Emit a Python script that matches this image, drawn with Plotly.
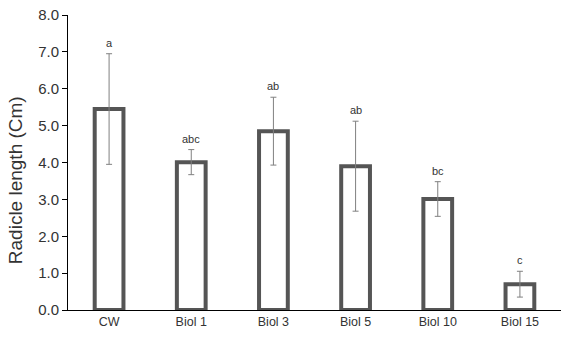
import plotly.graph_objects as go

categories = ["CW", "Biol 1", "Biol 3", "Biol 5", "Biol 10", "Biol 15"]
means = [5.45, 4.01, 4.85, 3.90, 3.01, 0.70]
errors = [1.50, 0.34, 0.92, 1.22, 0.47, 0.35]
letters = ["a", "abc", "ab", "ab", "bc", "c"]
y_ticks = [0, 1, 2, 3, 4, 5, 6, 7, 8]

fig = go.Figure()
fig.add_trace(go.Bar(
    x=categories, y=means, width=0.35,
    marker=dict(color="white", line=dict(color="#555555", width=4)),
    error_y=dict(type="data", array=errors, visible=True, color="#808080",
                 thickness=1, width=3),
    showlegend=False,
))

for c, m, e, l in zip(categories, means, errors, letters):
    fig.add_annotation(x=c, y=m + e, text=l, showarrow=False, yanchor="bottom",
                       yshift=3, font=dict(size=11, color="#333333",
                                           family="Liberation Sans, Arial"))

# y-axis title, placed as in the reference (slightly below the axis centre)
fig.add_annotation(xref="paper", yref="paper", x=0, y=0.44, xshift=-53,
                   xanchor="center", yanchor="middle", textangle=-90,
                   text="Radicle length (Cm)", showarrow=False,
                   font=dict(size=19, color="#333333", family="Liberation Sans, Arial"))

fig.update_layout(
    width=566, height=342,
    margin=dict(l=68, r=5, t=15, b=32),
    plot_bgcolor="white", paper_bgcolor="white",
    font=dict(family="Liberation Sans, Arial, sans-serif", color="#333333"),
    bargap=0.5,
)
fig.update_xaxes(
    range=[-0.5, 5.5], showline=True, linecolor="black", linewidth=1,
    ticks="", showgrid=False,
    tickfont=dict(size=12.5, family="Liberation Sans, Arial", color="#333333"),
)
fig.update_yaxes(
    range=[0, 8], tickvals=y_ticks, tickformat=".1f",
    showline=True, linecolor="black", linewidth=1,
    ticks="outside", ticklen=5, tickcolor="black", showgrid=False, zeroline=False,
    tickfont=dict(size=15, color="#333333"),
)

fig.write_html("out.html")
